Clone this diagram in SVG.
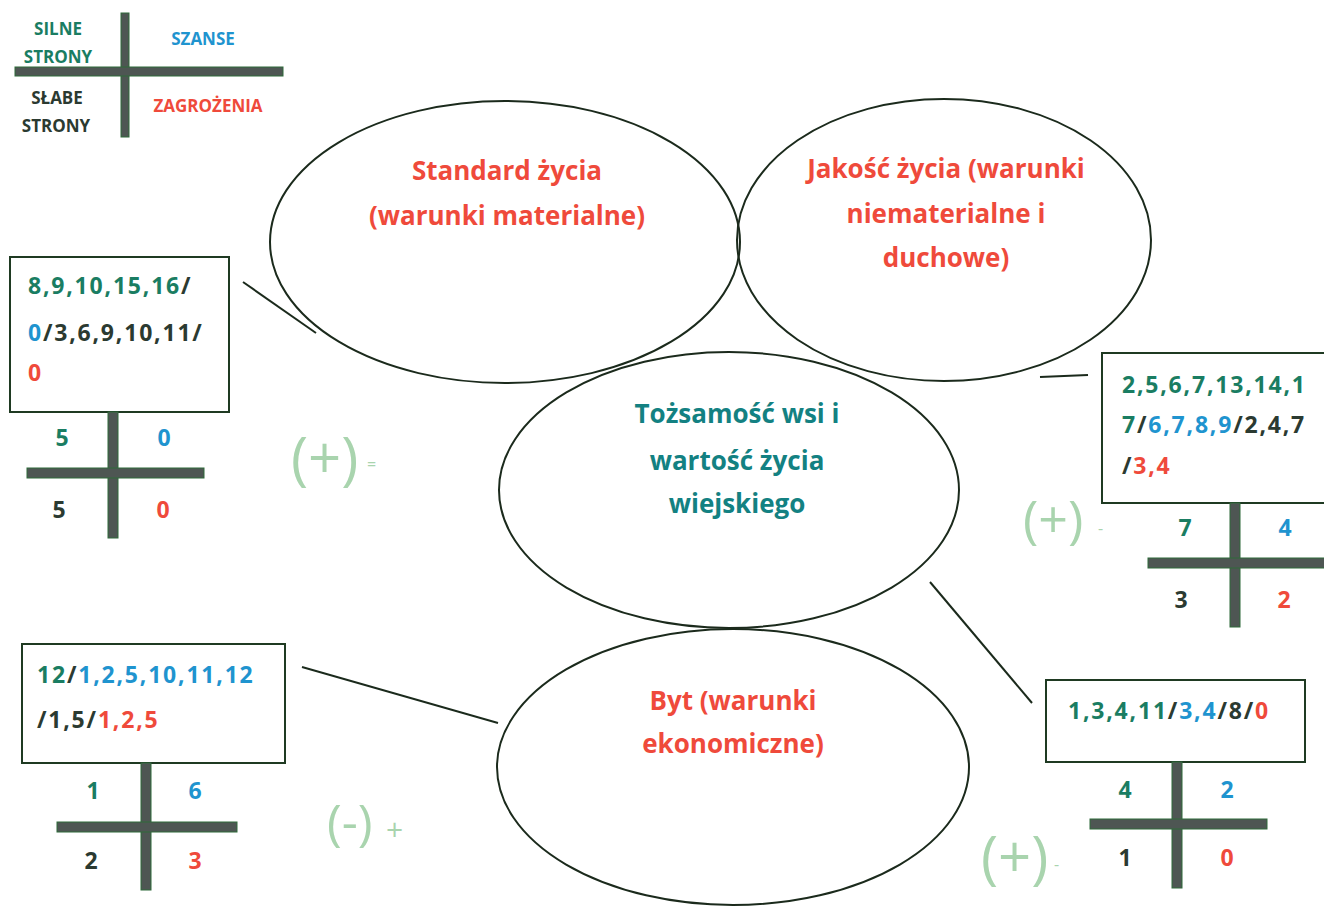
<svg xmlns="http://www.w3.org/2000/svg" width="1324" height="906" viewBox="0 0 1324 906">
<style>
text{font-family:"Open Sans","Liberation Sans",sans-serif;font-weight:bold}
.lg{font-size:17px}
.lab{font-size:26px;text-anchor:middle}
.num{font-size:23px;letter-spacing:1.8px}
.cn{font-size:23px;text-anchor:middle}
.g{fill:#1a7d62}
.b{fill:#1f94cf}
.d{fill:#2b3a31}
.r{fill:#ef4a3b}
.t{fill:#138182}
.ell{fill:none;stroke:#1b2a1c;stroke-width:2}
.box{fill:#fff;stroke:#1f3a22;stroke-width:2}
.bar{fill:#4e5653;stroke:#2f6a3a;stroke-width:1}
.con{stroke:#1b2a1c;stroke-width:2;fill:none}
.faint{fill:#a9d4ae;font-weight:normal}
</style>
<rect x="0" y="0" width="1324" height="906" fill="#fff"/>

<g id="legend">
<rect class="bar" x="121" y="13" width="8" height="124"/>
<rect class="bar" x="15" y="67" width="268" height="9"/>
<text class="lg g" x="58" y="35" text-anchor="middle">SILNE</text>
<text class="lg g" x="58" y="63" text-anchor="middle">STRONY</text>
<text class="lg b" x="203" y="45" text-anchor="middle">SZANSE</text>
<text class="lg d" x="57" y="104" text-anchor="middle">SŁABE</text>
<text class="lg d" x="56" y="132" text-anchor="middle">STRONY</text>
<text class="lg r" x="208" y="112" text-anchor="middle">ZAGROŻENIA</text>
</g>

<g id="connectors">
<line class="con" x1="243" y1="282" x2="316" y2="333"/>
<line class="con" x1="1040" y1="377" x2="1088" y2="375"/>
<line class="con" x1="930" y1="582" x2="1032" y2="703"/>
<line class="con" x1="302" y1="667" x2="498" y2="723"/>
</g>

<g id="standard">
<ellipse class="ell" cx="505" cy="242" rx="235" ry="141"/>
<text class="lab r" x="507" y="180">Standard życia</text>
<text class="lab r" x="507" y="225">(warunki materialne)</text>
</g>

<g id="jakosc">
<ellipse class="ell" cx="944" cy="240" rx="207" ry="141"/>
<text class="lab r" x="946" y="178">Jakość życia (warunki</text>
<text class="lab r" x="946" y="223">niematerialne i</text>
<text class="lab r" x="946" y="267">duchowe)</text>
</g>

<g id="tozsamosc">
<ellipse class="ell" cx="729" cy="490" rx="230" ry="138"/>
<text class="lab t" x="737" y="423">Tożsamość wsi i</text>
<text class="lab t" x="737" y="470">wartość życia</text>
<text class="lab t" x="737" y="513">wiejskiego</text>
</g>

<g id="byt">
<ellipse class="ell" cx="733" cy="767" rx="236" ry="138"/>
<text class="lab r" x="733" y="710">Byt (warunki</text>
<text class="lab r" x="733" y="753">ekonomiczne)</text>
</g>

<g id="box-left">
<rect class="box" x="10" y="257" width="219" height="155"/>
<text class="num" x="28" y="294"><tspan class="g">8,9,10,15,16</tspan><tspan class="d">/</tspan></text>
<text class="num" x="28" y="341"><tspan class="b">0</tspan><tspan class="d">/3,6,9,10,11/</tspan></text>
<text class="num r" x="28" y="381">0</text>
<rect class="bar" x="108" y="412" width="10" height="126"/>
<rect class="bar" x="27" y="468" width="177" height="10"/>
<text class="cn g" x="62" y="446">5</text>
<text class="cn b" x="164" y="446">0</text>
<text class="cn d" x="59" y="518">5</text>
<text class="cn r" x="163" y="518">0</text>
<text class="faint" x="291" y="479" font-size="58">(+)</text>
<text class="faint" x="367" y="470" font-size="16">=</text>
</g>

<g id="box-right">
<rect class="box" x="1102" y="353" width="230" height="150"/>
<text class="num" x="1122" y="393"><tspan class="g">2,5,6,7,13,14,1</tspan></text>
<text class="num" x="1122" y="433"><tspan class="g">7</tspan><tspan class="d">/</tspan><tspan class="b">6,7,8,9</tspan><tspan class="d">/2,4,7</tspan></text>
<text class="num" x="1122" y="474"><tspan class="d">/</tspan><tspan class="r">3,4</tspan></text>
<rect class="bar" x="1230" y="503" width="10" height="124"/>
<rect class="bar" x="1148" y="558" width="180" height="10"/>
<text class="cn g" x="1185" y="536">7</text>
<text class="cn b" x="1285" y="536">4</text>
<text class="cn d" x="1181" y="608">3</text>
<text class="cn r" x="1284" y="608">2</text>
<text class="faint" x="1023" y="538" font-size="52">(+)</text>
<text class="faint" x="1098" y="534" font-size="16">-</text>
</g>

<g id="box-bottom-left">
<rect class="box" x="22" y="644" width="263" height="119"/>
<text class="num" x="37" y="683"><tspan class="g">12</tspan><tspan class="d">/</tspan><tspan class="b">1,2,5,10,11,12</tspan></text>
<text class="num" x="37" y="728"><tspan class="d">/1,5/</tspan><tspan class="r">1,2,5</tspan></text>
<rect class="bar" x="141" y="763" width="10" height="127"/>
<rect class="bar" x="57" y="822" width="180" height="10"/>
<text class="cn g" x="93" y="799">1</text>
<text class="cn b" x="195" y="799">6</text>
<text class="cn d" x="91" y="869">2</text>
<text class="cn r" x="195" y="869">3</text>
<text class="faint" x="327" y="840" font-size="50">(-)</text>
<text class="faint" x="386" y="840" font-size="30">+</text>
</g>

<g id="box-bottom-right">
<rect class="box" x="1046" y="680" width="259" height="82"/>
<text class="num" x="1068" y="719"><tspan class="g">1,3,4,11</tspan><tspan class="d">/</tspan><tspan class="b">3,4</tspan><tspan class="d">/8/</tspan><tspan class="r">0</tspan></text>
<rect class="bar" x="1172" y="762" width="10" height="126"/>
<rect class="bar" x="1090" y="819" width="177" height="10"/>
<text class="cn g" x="1125" y="798">4</text>
<text class="cn b" x="1227" y="798">2</text>
<text class="cn d" x="1125" y="866">1</text>
<text class="cn r" x="1227" y="866">0</text>
<text class="faint" x="981" y="878" font-size="58">(+)</text>
<text class="faint" x="1054" y="870" font-size="16">-</text>
</g>
</svg>
